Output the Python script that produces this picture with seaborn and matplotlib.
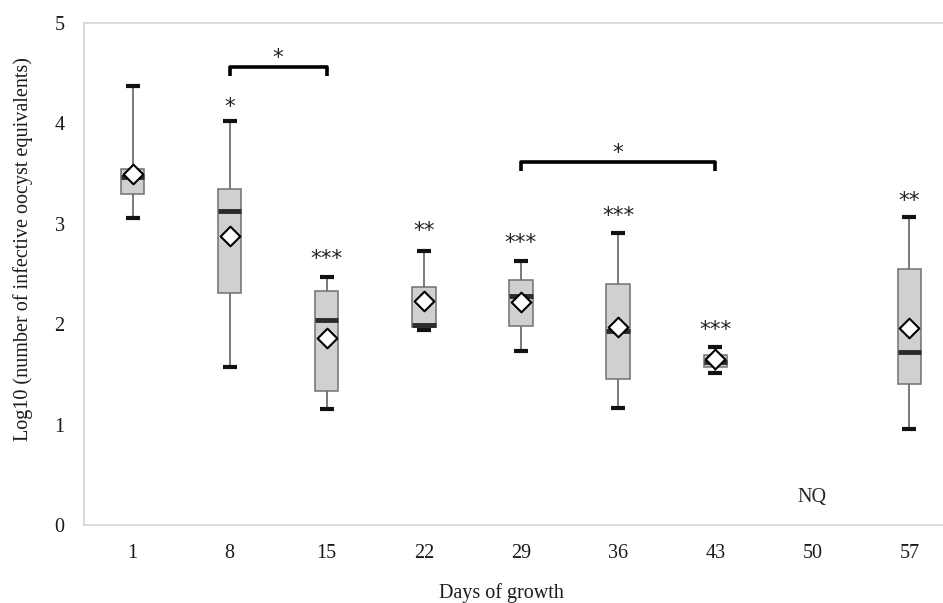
import numpy as np
import pandas as pd
import matplotlib
matplotlib.use("Agg")
import matplotlib.pyplot as plt
import matplotlib.transforms as mtransforms
import seaborn as sns

# Días de muestreo (categorías del eje x)
days = ["1", "8", "15", "22", "29", "36", "43", "50", "57"]

# Resumen de cada caja (día 50 = NQ, sin datos)
whisker_low = [3.06, 1.57, 1.16, 1.94, 1.73, 1.17, 1.51, None, 0.96]
q1 = [3.30, 2.31, 1.33, 1.97, 1.98, 1.45, 1.57, None, 1.40]
median = [3.47, 3.13, 2.04, 1.99, 2.28, 1.93, 1.62, None, 1.72]
q3 = [3.55, 3.35, 2.33, 2.37, 2.44, 2.40, 1.69, None, 2.55]
whisker_high = [4.37, 4.02, 2.47, 2.73, 2.63, 2.91, 1.77, None, 3.07]
means = [3.50, 2.88, 1.86, 2.23, 2.22, 1.97, 1.65, None, 1.96]

# Asteriscos de significación sobre cada caja
stars = ["", "*", "***", "**", "***", "***", "***", "", "**"]
star_y = [None, 4.20, 2.69, 2.97, 2.85, 3.12, 1.98, None, 3.27]

# Corchetes de comparación: (día inicio, día fin, altura, etiqueta)
brackets = [("8", "15", 4.56, "*"), ("29", "43", 3.62, "*")]

# Cinco valores por caja -> seaborn reproduce cuartiles exactos con whis=(0, 100)
rows = []
for d, lo, a, m, b, hi in zip(days, whisker_low, q1, median, q3, whisker_high):
    if lo is None:
        continue
    for v in (lo, a, m, b, hi):
        rows.append({"day": d, "value": v})
df = pd.DataFrame(rows)
df_mean = pd.DataFrame({"day": days, "mean": means}).dropna()

sns.set_theme(style="white")
plt.rcParams["font.family"] = ["Liberation Serif", "DejaVu Serif"]

fig = plt.figure(figsize=(9.43, 6.03), dpi=100)
ax = fig.add_axes([84 / 943, 1 - 525 / 603, 874 / 943, 502 / 603])

CAP = "#111111"
sns.boxplot(
    data=df, x="day", y="value", order=days, ax=ax,
    whis=(0, 100), width=0.24, saturation=1, color="#d0d0d0",
    linecolor="#707070", linewidth=1.1,
    medianprops=dict(color="#2b2b2b", linewidth=3.5, solid_capstyle="butt"),
    whiskerprops=dict(color="#707070", linewidth=1.3),
    capprops=dict(color=CAP, linewidth=3, solid_capstyle="butt"),
    boxprops=dict(edgecolor="#707070", facecolor="#d0d0d0"),
)

# tapas algo más anchas, como en el original
for ln in ax.lines:
    xd, yd = np.asarray(ln.get_xdata(), float), np.asarray(ln.get_ydata(), float)
    if ln.get_color() == CAP and len(xd) == 2 and yd[0] == yd[1]:
        c = xd.mean()
        ln.set_xdata([c - 0.072, c + 0.072])

sns.stripplot(
    data=df_mean, x="day", y="mean", order=days, ax=ax,
    jitter=False, marker="D", size=10, color="white",
    edgecolor="black", linewidth=1.5, zorder=5,
)

fs = 14.5
star_kw = dict(ha="center", va="center", fontsize=15.5, color="#262626",
               family=["DejaVu Sans"])
# el asterisco queda alto en su caja de texto: bajarlo unos puntos
star_tr = mtransforms.offset_copy(ax.transData, fig=fig, x=0, y=-3, units="points")
for i, (s, y) in enumerate(zip(stars, star_y)):
    if s and y is not None:
        ax.text(i, y, s, transform=star_tr, **star_kw)

for a, b, h, lab in brackets:
    xa, xb = days.index(a), days.index(b)
    ax.plot([xa, xa, xb, xb], [h - 0.09, h, h, h - 0.09],
            color="black", linewidth=2.6, solid_capstyle="butt", clip_on=False)
    ax.text((xa + xb) / 2, h + 0.13, lab, transform=star_tr, **star_kw)

ax.text(days.index("50"), 0.27, "NQ", ha="center", va="center", fontsize=fs, color="#262626")

ax.set_xlim(-0.5, 8.5)
ax.set_ylim(0, 5)
ax.set_yticks(range(6))
ax.tick_params(axis="both", length=0, labelsize=fs, colors="#1a1a1a")
ax.tick_params(axis="y", pad=14)
ax.tick_params(axis="x", pad=14)
for sp in ax.spines.values():
    sp.set_color("#d4d4d4")
    sp.set_linewidth(1.2)

ax.set_xlabel("Days of growth", fontsize=fs, color="#1a1a1a")
ax.set_ylabel("Log10 (number of infective oocyst equivalents)", fontsize=fs, color="#1a1a1a")
ax.xaxis.set_label_coords(0.478, -0.115)
ax.yaxis.set_label_coords(-0.058, 0.55)

fig.savefig("out.png", dpi=100)
